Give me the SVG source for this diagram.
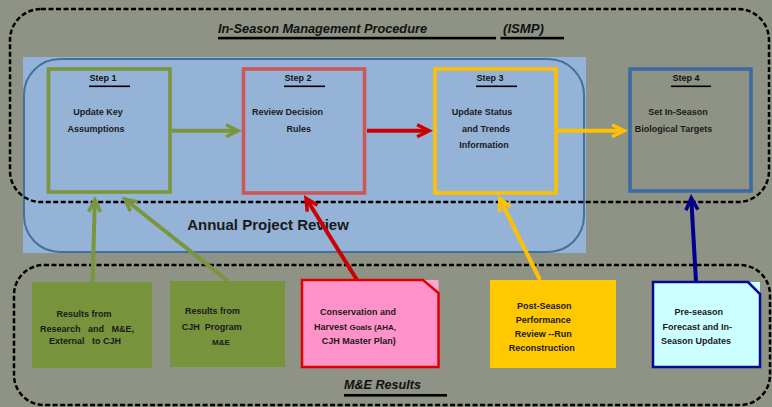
<svg xmlns="http://www.w3.org/2000/svg" width="772" height="407" viewBox="0 0 772 407">
<defs>
<style>
.t{font-family:"Liberation Sans",Arial,sans-serif;font-weight:bold;fill:#1a1a1a;font-size:9px;text-anchor:middle}
.st{font-family:"Liberation Sans",Arial,sans-serif;font-weight:bold;fill:#111;font-size:9px;text-anchor:middle}
.sm{font-size:8px}
.ttl{font-family:"Liberation Sans",Arial,sans-serif;font-weight:bold;font-style:italic;fill:#111;font-size:13px}
.frame{fill:none;stroke:#000;stroke-width:2.5;stroke-dasharray:5 2.5}
.step{fill:none;stroke-width:3.6}
.conn{fill:none;stroke-width:4}
</style>
<marker id="ah-green" viewBox="-2 -2 20 16" refX="10.9" refY="6" markerWidth="20" markerHeight="16" markerUnits="userSpaceOnUse" orient="auto" overflow="visible"><path d="M0,0 L12,6 L0,12" fill="none" stroke="#7a963c" stroke-width="3.5"/></marker>
<marker id="ah-red" viewBox="-2 -2 20 16" refX="10.9" refY="6" markerWidth="20" markerHeight="16" markerUnits="userSpaceOnUse" orient="auto" overflow="visible"><path d="M0,0 L12,6 L0,12" fill="none" stroke="#cc0000" stroke-width="3.5"/></marker>
<marker id="ah-yellow" viewBox="-2 -2 20 16" refX="10.9" refY="6" markerWidth="20" markerHeight="16" markerUnits="userSpaceOnUse" orient="auto" overflow="visible"><path d="M0,0 L12,6 L0,12" fill="none" stroke="#ffc000" stroke-width="3.5"/></marker>
<marker id="ah-navy" viewBox="-2 -2 20 16" refX="10.9" refY="6" markerWidth="20" markerHeight="16" markerUnits="userSpaceOnUse" orient="auto" overflow="visible"><path d="M0,0 L12,6 L0,12" fill="none" stroke="#00008b" stroke-width="3.5"/></marker>
</defs>
<rect x="0" y="0" width="772" height="407" fill="#8e9385"/>

<g id="annual-review">
<rect x="23" y="57" width="563" height="196" fill="#95b3d7"/>
<rect x="24" y="59" width="560" height="193" rx="36" fill="none" stroke="#41719c" stroke-width="2"/>
<text x="268" y="230" style="font-family:'Liberation Sans',Arial,sans-serif;font-weight:bold;font-size:15px;fill:#1a1a1a;text-anchor:middle">Annual Project Review</text>
</g>

<g id="ismp-frame">
<rect x="10" y="9" width="759" height="193" rx="31" class="frame"/>
<text x="218" y="33" class="ttl" textLength="209" lengthAdjust="spacingAndGlyphs">In-Season Management Procedure</text>
<text x="503" y="33" class="ttl" textLength="41" lengthAdjust="spacingAndGlyphs">(ISMP)</text>
<rect x="218" y="36.8" width="278" height="2.6" fill="#000"/>
<rect x="500.5" y="36.8" width="63.5" height="2.6" fill="#000"/>
</g>

<g id="me-frame">
<rect x="14" y="265" width="756" height="140" rx="30" class="frame"/>
<text x="344" y="389" class="ttl" textLength="77" lengthAdjust="spacingAndGlyphs">M&amp;E Results</text>
<rect x="344" y="394" width="103" height="2.6" fill="#000"/>
</g>

<g id="connectors">
<line x1="172" y1="130.7" x2="237" y2="130.7" class="conn" stroke="#7a963c" marker-end="url(#ah-green)"/>
<line x1="367" y1="130.7" x2="428" y2="130.7" class="conn" stroke="#cc0000" marker-end="url(#ah-red)"/>
<line x1="558" y1="130.7" x2="623" y2="130.7" class="conn" stroke="#ffc000" marker-end="url(#ah-yellow)"/>
<line x1="92.5" y1="282" x2="94.85" y2="201" class="conn" stroke="#7a963c" marker-end="url(#ah-green)"/>
<line x1="228" y1="281" x2="125.6" y2="199.8" class="conn" stroke="#7a963c" marker-end="url(#ah-green)"/>
<line x1="357" y1="280" x2="306.6" y2="199.2" class="conn" stroke="#cc0000" marker-end="url(#ah-red)"/>
<line x1="540" y1="280" x2="500.2" y2="199.5" class="conn" stroke="#ffc000" marker-end="url(#ah-yellow)"/>
<line x1="696" y1="282" x2="691.3" y2="199" class="conn" stroke="#00008b" marker-end="url(#ah-navy)"/>
</g>

<g id="step1">
<rect x="48.5" y="69" width="121.5" height="123" class="step" stroke="#7a963c"/>
<text x="103" y="81" class="st">Step 1</text>
<rect x="89" y="85.5" width="41" height="1.6" fill="#000"/>
<text x="98" y="115" class="t">Update Key</text>
<text x="96" y="131.5" class="t">Assumptions</text>
</g>

<g id="step2">
<rect x="243.5" y="69" width="121" height="124" class="step" stroke="#cd5656"/>
<text x="298" y="81" class="st">Step 2</text>
<rect x="284" y="85.5" width="41" height="1.6" fill="#000"/>
<text x="287.5" y="115" class="t">Review Decision</text>
<text x="298.7" y="131.5" class="t">Rules</text>
</g>

<g id="step3">
<rect x="435" y="69" width="121" height="124" class="step" stroke="#ffc000" stroke-width="4"/>
<text x="490" y="81" class="st">Step 3</text>
<rect x="476" y="85.5" width="41" height="1.6" fill="#000"/>
<text x="482" y="115" class="t">Update Status</text>
<text x="486" y="131.5" class="t">and Trends</text>
<text x="484" y="147.5" class="t">Information</text>
</g>

<g id="step4">
<rect x="630" y="69" width="121" height="122" class="step" stroke="#3d6aa3"/>
<text x="686" y="81" class="st">Step 4</text>
<rect x="671" y="85.5" width="40" height="1.6" fill="#000"/>
<text x="678" y="115" class="t">Set In-Season</text>
<text x="673.5" y="131.5" class="t">Biological Targets</text>
</g>

<g id="results-research">
<rect x="32" y="282" width="120" height="86" fill="#77933c"/>
<text x="84" y="317" class="t">Results from</text>
<text x="87" y="331.5" class="t" xml:space="preserve">Research   and   M&amp;E,</text>
<text x="85" y="344" class="t" xml:space="preserve">External   to CJH</text>
</g>

<g id="results-cjh">
<rect x="170" y="281" width="115" height="86" fill="#77933c"/>
<text x="212.5" y="314" class="t">Results from</text>
<text x="211.7" y="330" class="t" xml:space="preserve">CJH  Program</text>
<text x="221" y="345" class="t sm">M&amp;E</text>
</g>

<g id="conservation-goals">
<polygon points="423,280 438.5,280 438.5,293" fill="#ffa6d3"/>
<polygon points="302,280 423,280 438.5,293 438.5,367 302,367" fill="#ff93c9" stroke="#e00000" stroke-width="2.5"/>
<text x="358" y="315" class="t">Conservation and</text>
<text x="355" y="330" class="t">Harvest <tspan class="sm">Goals (AHA,</tspan></text>
<text x="358.7" y="343.5" class="t">CJH Master Plan)</text>
</g>

<g id="post-season">
<rect x="490" y="280" width="126" height="88" fill="#ffc800"/>
<text x="544.3" y="308.5" class="t">Post-Season</text>
<text x="543.3" y="323.3" class="t">Performance</text>
<text x="543.3" y="337.3" class="t">Review --Run</text>
<text x="541.7" y="351" class="t">Reconstruction</text>
</g>

<g id="preseason-forecast">
<polygon points="748,282 760,282 760,294" fill="#ccffff"/>
<polygon points="653,282 748,282 760,294 760,367 653,367" fill="#ccffff" stroke="#0a0a8c" stroke-width="2.5"/>
<text x="698.7" y="315" class="t">Pre-season</text>
<text x="697.3" y="330" class="t">Forecast and In-</text>
<text x="696" y="344" class="t">Season Updates</text>
</g>
</svg>
